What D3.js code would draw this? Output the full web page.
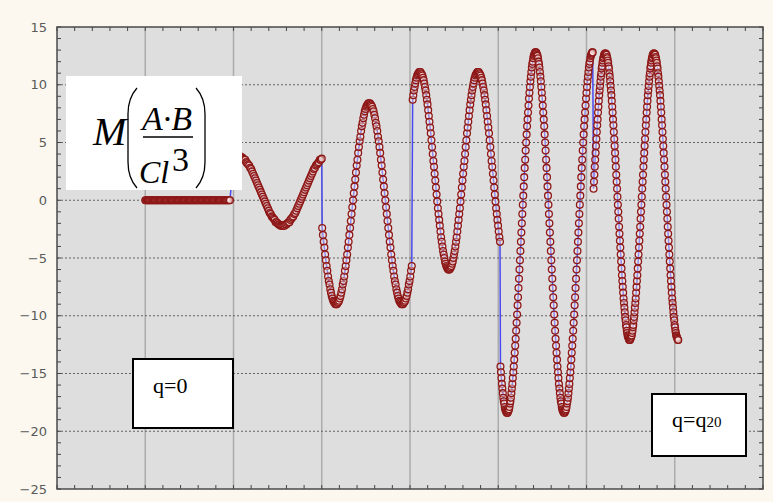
<!DOCTYPE html>
<meta charset="utf-8">
<style>
    body {
        margin: 0;
        background: #fcf8ef;
    }
    svg {
        display: block;
    }
    .y.axis text {
        font: 13px "DejaVu Sans", sans-serif;
        fill: #5a5a5a;
    }
    .grid-h line {
        stroke: #666;
        stroke-width: 1.2;
        stroke-dasharray: 2,2;
    }
    .grid-v line {
        stroke: #ababab;
        stroke-width: 1.5;
    }
    .minor line {
        stroke: #444;
    }
    path.trace {
        fill: none;
        stroke: #4848f0;
        stroke-width: 1.5;
    }
    circle.pt {
        fill: #fff0ee;
        fill-opacity: 0.4;
        stroke: #8e1818;
        stroke-width: 1.3;
    }
    .serif {
        font-family: "Liberation Serif", "Times New Roman", serif;
        fill: #000;
    }
</style>
<body>
<script src="https://d3js.org/d3.v7.min.js"></script>
<script>

    // tick labels and grid positions
    var yTicks = [15, 10, 5, 0, -5, -10, -15, -20, -25];
    var xGrid = [1, 2, 3, 4, 5, 6, 7];

    // each piece of the curve: x range and the values
    var segStart = [1.0, 2.0, 3.005, 4.03, 5.025, 6.08];
    var segEnd   = [1.96, 3.0, 4.02, 5.02, 6.07, 7.04];

    var segA = [0,0,0,0,0,0,0,0,0,0, 0,0,0,0,0,0,0,0,0,0, 0,0,0,0,0,0,0,0,0,0,
                0,0,0,0,0,0,0,0,0,0, 0,0,0,0,0,0,0,0,0,0, 0,0,0,0,0,0,0,0,0,0,
                0,0,0,0,0,0,0,0,0,0, 0,0,0,0,0,0,0,0,0,0, 0,0,0,0,0,0,0,0,0,0,
                0,0,0,0,0,0,0,0,0,0];

    var segB = [3.6, 3.7, 3.7, 3.8, 3.8, 3.8, 3.8, 3.8, 3.7, 3.7,
                3.6, 3.5, 3.5, 3.3, 3.2, 3.1, 3.0, 2.8, 2.7, 2.5,
                2.3, 2.1, 1.9, 1.7, 1.5, 1.3, 1.1, 0.9, 0.7, 0.5,
                0.3, 0.1, -0.1, -0.3, -0.5, -0.7, -0.9, -1.1, -1.2, -1.4,
                -1.5, -1.6, -1.7, -1.9, -1.9, -2.0, -2.1, -2.1, -2.2, -2.2,
                -2.2, -2.2, -2.2, -2.1, -2.1, -2.0, -1.9, -1.9, -1.7, -1.6,
                -1.5, -1.4, -1.2, -1.1, -0.9, -0.7, -0.5, -0.3, -0.1, 0.1,
                0.3, 0.5, 0.7, 0.9, 1.1, 1.3, 1.5, 1.7, 1.9, 2.1,
                2.3, 2.5, 2.7, 2.8, 3.0, 3.1, 3.2, 3.3, 3.5, 3.5,
                3.6];

    var segC = [-2.4, -3.0, -3.6, -4.1, -4.7, -5.2, -5.7, -6.1, -6.6, -7.0,
                -7.3, -7.7, -8.0, -8.3, -8.5, -8.7, -8.8, -8.9, -9.0, -9.0,
                -9.0, -8.9, -8.8, -8.7, -8.5, -8.3, -8.0, -7.7, -7.3, -7.0,
                -6.6, -6.1, -5.7, -5.2, -4.7, -4.1, -3.6, -3.0, -2.4, -1.8,
                -1.2, -0.6, 0.0, 0.6, 1.2, 1.8, 2.4, 3.0, 3.5, 4.1,
                4.6, 5.1, 5.5, 6.0, 6.4, 6.7, 7.1, 7.4, 7.7, 7.9,
                8.1, 8.2, 8.3, 8.4, 8.4, 8.4, 8.3, 8.2, 8.1, 7.9,
                7.7, 7.4, 7.1, 6.7, 6.4, 6.0, 5.5, 5.1, 4.6, 4.1,
                3.5, 3.0, 2.4, 1.8, 1.2, 0.6, 0.0, -0.6, -1.2, -1.8,
                -2.4, -3.0, -3.6, -4.1, -4.7, -5.2, -5.7, -6.1, -6.6, -7.0,
                -7.3, -7.7, -8.0, -8.3, -8.5, -8.7, -8.8, -8.9, -9.0, -9.0,
                -9.0, -8.9, -8.8, -8.7, -8.5, -8.3, -8.0, -7.7, -7.3, -7.0,
                -6.6, -6.1, -5.7];

    var segD = [8.7, 9.1, 9.5, 9.8, 10.1, 10.4, 10.6, 10.8, 10.9, 11.0,
                11.1, 11.1, 11.1, 11.0, 10.9, 10.8, 10.6, 10.4, 10.1, 9.8,
                9.5, 9.1, 8.7, 8.3, 7.8, 7.3, 6.8, 6.3, 5.8, 5.2,
                4.6, 4.0, 3.4, 2.9, 2.3, 1.7, 1.1, 0.5, -0.1, -0.7,
                -1.2, -1.7, -2.2, -2.7, -3.2, -3.6, -4.0, -4.4, -4.7, -5.0,
                -5.3, -5.5, -5.7, -5.8, -5.9, -6.0, -6.0, -6.0, -5.9, -5.8,
                -5.7, -5.5, -5.3, -5.0, -4.7, -4.4, -4.0, -3.6, -3.2, -2.7,
                -2.2, -1.7, -1.2, -0.7, -0.1, 0.5, 1.1, 1.7, 2.3, 2.9,
                3.4, 4.0, 4.6, 5.2, 5.8, 6.3, 6.8, 7.3, 7.8, 8.3,
                8.7, 9.1, 9.5, 9.8, 10.1, 10.4, 10.6, 10.8, 10.9, 11.0,
                11.1, 11.1, 11.1, 11.0, 10.9, 10.8, 10.6, 10.4, 10.1, 9.8,
                9.5, 9.1, 8.7, 8.3, 7.8, 7.3, 6.8, 6.3, 5.8, 5.2,
                4.6, 4.0, 3.4, 2.9, 2.3, 1.7, 1.1, 0.5, -0.1, -0.7,
                -1.2, -1.7, -2.2, -2.7, -3.2, -3.6];

    var segE = [-14.4, -14.9, -15.4, -15.9, -16.3, -16.7, -17.1, -17.4, -17.6, -17.9, -18.1, -18.2, -18.3, -18.4,
                -18.4, -18.4, -18.3, -18.2, -18.1, -17.9, -17.6, -17.4, -17.1, -16.7,
                -16.3, -15.9, -15.4, -14.9, -14.4, -13.8, -13.2, -12.6, -12.0, -11.3,
                -10.6, -9.9, -9.1, -8.4, -7.6, -6.8, -6.0, -5.2, -4.4, -3.6,
                -2.8, -2.0, -1.2, -0.4, 0.4, 1.2, 2.0, 2.8, 3.5, 4.3,
                5.0, 5.7, 6.4, 7.0, 7.6, 8.2, 8.8, 9.3, 9.8, 10.3,
                10.7, 11.1, 11.5, 11.8, 12.0, 12.3, 12.5, 12.6, 12.7, 12.8, 12.8,
                12.8, 12.7, 12.6, 12.5, 12.3, 12.0, 11.8, 11.5, 11.1, 10.7,
                10.3, 9.8, 9.3, 8.8, 8.2, 7.6, 7.0, 6.4, 5.7, 5.0,
                4.3, 3.5, 2.8, 2.0, 1.2, 0.4, -0.4, -1.2, -2.0, -2.8,
                -3.6, -4.4, -5.2, -6.0, -6.8, -7.6, -8.4, -9.1, -9.9, -10.6,
                -11.3, -12.0, -12.6, -13.2, -13.8, -14.4, -14.9, -15.4, -15.9, -16.3,
                -16.7, -17.1, -17.4, -17.6, -17.9, -18.1, -18.2, -18.3, -18.4, -18.4,
                -18.4, -18.3, -18.2, -18.1, -17.9, -17.6, -17.4, -17.1, -16.7, -16.3,
                -15.9, -15.4, -14.9, -14.4, -13.8, -13.2, -12.6, -12.0, -11.3, -10.6,
                -9.9, -9.1, -8.4, -7.6, -6.8, -6.0, -5.2, -4.4, -3.6, -2.8,
                -2.0, -1.2, -0.4, 0.4, 1.2, 2.0, 2.8, 3.5, 4.3, 5.0,
                5.7, 6.4, 7.0, 7.6, 8.2, 8.8, 9.3, 9.8, 10.3, 10.7,
                11.1, 11.5, 11.8, 12.0, 12.3, 12.5, 12.6, 12.7, 12.8, 12.8];

    var segF = [1.0, 1.6, 2.2, 2.9, 3.5, 4.1, 4.7, 5.3, 5.9, 6.5,
                7.0, 7.6, 8.1, 8.6, 9.1, 9.5, 9.9, 10.3, 10.7, 11.0,
                11.4, 11.6, 11.9, 12.1, 12.3, 12.4, 12.6, 12.6, 12.7,
                12.7, 12.7, 12.6, 12.6, 12.4, 12.3, 12.1, 11.9, 11.6, 11.4,
                11.0, 10.7, 10.3, 9.9, 9.5, 9.1, 8.6, 8.1, 7.6, 7.0,
                6.5, 5.9, 5.3, 4.7, 4.1, 3.5, 2.9, 2.2, 1.6, 1.0,
                0.3, -0.4, -1.0, -1.6, -2.3, -2.9, -3.5, -4.1, -4.7, -5.3,
                -5.9, -6.5, -7.0, -7.5, -8.0, -8.5, -8.9, -9.3, -9.7, -10.1,
                -10.4, -10.8, -11.0, -11.3, -11.5, -11.7, -11.8, -11.9, -12.0, -12.1, -12.1,
                -12.1, -12.0, -11.9, -11.8, -11.7, -11.5, -11.3, -11.0, -10.8, -10.4,
                -10.1, -9.7, -9.3, -8.9, -8.5, -8.0, -7.5, -7.0, -6.5, -5.9,
                -5.3, -4.7, -4.1, -3.5, -2.9, -2.3, -1.6, -1.0, -0.4, 0.3,
                1.0, 1.6, 2.2, 2.9, 3.5, 4.1, 4.7, 5.3, 5.9, 6.5,
                7.0, 7.6, 8.1, 8.6, 9.1, 9.5, 9.9, 10.3, 10.7, 11.0,
                11.4, 11.6, 11.9, 12.1, 12.3, 12.4, 12.6, 12.6, 12.7, 12.7,
                12.7, 12.6, 12.6, 12.4, 12.3, 12.1, 11.9, 11.6, 11.4, 11.0,
                10.7, 10.3, 9.9, 9.5, 9.1, 8.6, 8.1, 7.6, 7.0, 6.5,
                5.9, 5.3, 4.7, 4.1, 3.5, 2.9, 2.2, 1.6, 1.0, 0.3,
                -0.4, -1.0, -1.6, -2.3, -2.9, -3.5, -4.1, -4.7, -5.3, -5.9,
                -6.5, -7.0, -7.5, -8.0, -8.5, -8.9, -9.3, -9.7, -10.1, -10.4,
                -10.8, -11.0, -11.3, -11.5, -11.7, -11.8, -11.9, -12.0, -12.1, -12.1];

    var labelLeft = "q=0";
    var labelRight = ["q=q", "20"];

    var width = 773, height = 502;
    var plot = {left: 57, top: 27, right: 763, bottom: 489};

    var x = d3.scaleLinear().domain([0, 8]).range([plot.left, plot.right]);
    var y = d3.scaleLinear().domain([-25, 15]).range([plot.bottom, plot.top]);

    var svg = d3.select("body").append("svg")
            .attr("width", width)
            .attr("height", height);

    svg.append("rect")
            .attr("width", width)
            .attr("height", height)
            .attr("fill", "#fcf8ef");

    svg.append("rect")
            .attr("x", x(0)).attr("y", y(15))
            .attr("width", x(8) - x(0)).attr("height", y(-25) - y(15))
            .attr("fill", "#dedede");

    // grid
    svg.append("g").attr("class", "grid-v")
        .selectAll("line").data(xGrid).enter().append("line")
            .attr("x1", function(d) { return x(d); })
            .attr("x2", function(d) { return x(d); })
            .attr("y1", y(15)).attr("y2", y(-25));

    svg.append("g").attr("class", "grid-h")
        .selectAll("line").data(yTicks.filter(function(d) { return d > -25 && d < 15; })).enter().append("line")
            .attr("x1", x(0)).attr("x2", x(8))
            .attr("y1", function(d) { return y(d); })
            .attr("y2", function(d) { return y(d); });

    // minor ticks on the frame
    var minor = svg.append("g").attr("class", "minor");
    d3.range(-25, 16, 1).forEach(function(v) {
        minor.append("line").attr("x1", x(0)).attr("x2", x(0) + 4).attr("y1", y(v)).attr("y2", y(v));
        minor.append("line").attr("x1", x(8)).attr("x2", x(8) - 4).attr("y1", y(v)).attr("y2", y(v));
    });
    d3.range(0, 8.01, 0.2).forEach(function(v) {
        minor.append("line").attr("x1", x(v)).attr("x2", x(v)).attr("y1", y(-25)).attr("y2", y(-25) - 4);
        minor.append("line").attr("x1", x(v)).attr("x2", x(v)).attr("y1", y(15)).attr("y2", y(15) + 4);
    });

    // frame
    svg.append("rect")
            .attr("x", x(0)).attr("y", y(15))
            .attr("width", x(8) - x(0)).attr("height", y(-25) - y(15))
            .attr("fill", "none")
            .attr("stroke", "#4a4a4a")
            .attr("stroke-width", 1.5);

    var yAxis = d3.axisLeft(y).tickValues(yTicks).tickSize(0).tickPadding(10);
    svg.append("g")
            .attr("class", "y axis")
            .attr("transform", "translate(" + x(0) + ",0)")
            .call(yAxis)
            .call(function(g) { g.select(".domain").remove(); });

    // points
    var segments = [segA, segB, segC, segD, segE, segF];
    var points = [];
    segments.forEach(function(vals, k) {
        var n = vals.length;
        vals.forEach(function(v, i) {
            points.push({x: segStart[k] + (segEnd[k] - segStart[k]) * i / (n - 1), y: v});
        });
    });

    var line = d3.line()
            .x(function(d) { return x(d.x); })
            .y(function(d) { return y(d.y); });

    svg.append("path")
            .datum(points)
            .attr("class", "trace")
            .attr("d", line);

    svg.append("g").selectAll("circle").data(points).enter().append("circle")
            .attr("class", "pt")
            .attr("cx", function(d) { return x(d.x); })
            .attr("cy", function(d) { return y(d.y); })
            .attr("r", 3.4);

    // formula box
    var f = svg.append("g");
    f.append("rect").attr("x", 66).attr("y", 76).attr("width", 176).attr("height", 114).attr("fill", "#fff");
    f.append("text").attr("class", "serif").attr("x", 93).attr("y", 145)
            .style("font-size", "40px").style("font-style", "italic").text("M");
    f.append("path")
            .attr("d", "M137,88 Q128,98 128,114 L128,162 Q128,178 137,188 M196,88 Q205,98 205,114 L205,162 Q205,178 196,188")
            .attr("fill", "none").attr("stroke", "#000").attr("stroke-width", 1.3);
    f.append("text").attr("class", "serif").attr("x", 167).attr("y", 130)
            .attr("text-anchor", "middle")
            .style("font-size", "34px").style("font-style", "italic").text("A·B");
    f.append("line").attr("x1", 143).attr("x2", 193).attr("y1", 137).attr("y2", 137)
            .attr("stroke", "#000").attr("stroke-width", 1.3);
    f.append("text").attr("class", "serif").attr("x", 139).attr("y", 183)
            .style("font-size", "32px").style("font-style", "italic").text("Cl");
    f.append("text").attr("class", "serif").attr("x", 172).attr("y", 171)
            .style("font-size", "34px").text("3");

    // q labels
    svg.append("rect").attr("x", 133).attr("y", 359).attr("width", 100).attr("height", 69)
            .attr("fill", "#fff").attr("stroke", "#000").attr("stroke-width", 2);
    svg.append("text").attr("class", "serif").attr("x", 153).attr("y", 393)
            .style("font-size", "22px").text(labelLeft);

    svg.append("rect").attr("x", 652).attr("y", 394).attr("width", 94).attr("height", 62)
            .attr("fill", "#fff").attr("stroke", "#000").attr("stroke-width", 2);
    var t = svg.append("text").attr("class", "serif").attr("x", 672).attr("y", 427)
            .style("font-size", "22px");
    t.append("tspan").text(labelRight[0]);
    t.append("tspan").style("font-size", "15px").text(labelRight[1]);

</script>
</body>
